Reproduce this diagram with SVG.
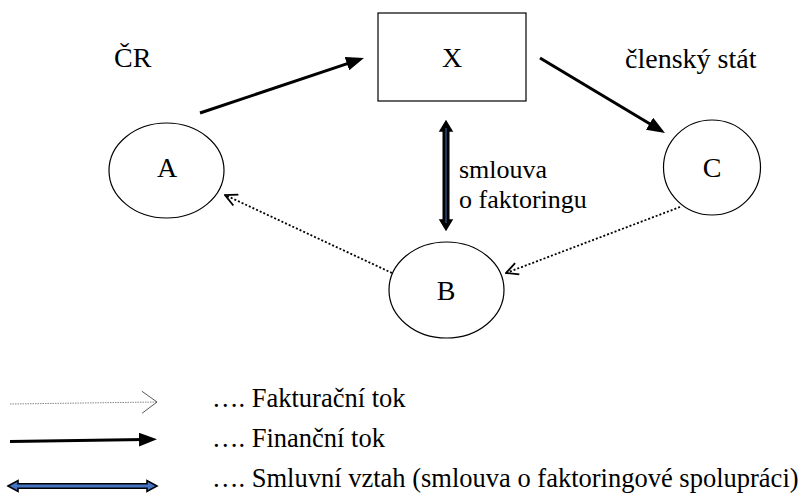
<svg xmlns="http://www.w3.org/2000/svg" width="808" height="502" viewBox="0 0 808 502">
<style>
  .t { font-family: "Liberation Serif", "Times New Roman", serif; fill: #000; }
  .lbl { font-size: 28px; }
  .node { fill: #fff; stroke: #000; stroke-width: 1.2; }
  .fin { stroke: #000; stroke-width: 3; fill: none; }
  .fak { stroke: #000; stroke-width: 1.8; stroke-dasharray: 2 2; fill: none; }
  .leg { font-size: 26.5px; }
  .side { font-size: 26px; }
  .dbl { fill: #4472c4; stroke: #000; stroke-width: 1.6; stroke-linejoin: miter; }
</style>
<defs>
  <marker id="solid" markerUnits="userSpaceOnUse" viewBox="0 0 18 14" markerWidth="18" markerHeight="14" refX="6" refY="7" orient="auto">
    <path d="M0,0 L18,7 L0,14 z" fill="#000"/>
  </marker>
  <marker id="open" markerUnits="userSpaceOnUse" viewBox="0 0 14 14" markerWidth="14" markerHeight="14" refX="13" refY="7" orient="auto">
    <path d="M1,1 L13,7 L1,13" fill="none" stroke="#000" stroke-width="1.8"/>
  </marker>
  <marker id="openthin" markerUnits="userSpaceOnUse" viewBox="0 0 18 24" markerWidth="18" markerHeight="24" refX="16" refY="12" orient="auto">
    <path d="M1,1 L16,12 L1,23" fill="none" stroke="#444" stroke-width="0.9"/>
  </marker>
</defs>

<g id="labels">
  <text class="t lbl" x="114" y="67">ČR</text>
  <text class="t lbl" x="625" y="68">členský stát</text>
</g>

<g id="node-X">
  <rect x="378" y="13" width="148" height="88" class="node"/>
  <text class="t lbl" x="452" y="67" text-anchor="middle">X</text>
</g>
<g id="node-A">
  <ellipse cx="166.5" cy="170.5" rx="57.5" ry="47.5" class="node"/>
  <text class="t lbl" x="167" y="177" text-anchor="middle">A</text>
</g>
<g id="node-C">
  <ellipse cx="712" cy="167.5" rx="48.5" ry="47.5" class="node"/>
  <text class="t lbl" x="712" y="177" text-anchor="middle">C</text>
</g>
<g id="node-B">
  <ellipse cx="446.5" cy="290" rx="57.5" ry="48" class="node"/>
  <text class="t lbl" x="446" y="300" text-anchor="middle">B</text>
</g>

<g id="connectors">
  <line x1="200" y1="113" x2="352.6" y2="61.8" class="fin" marker-end="url(#solid)"/>
  <line x1="540" y1="58" x2="654.7" y2="126.8" class="fin" marker-end="url(#solid)"/>
  <line x1="392" y1="273" x2="225" y2="195" class="fak" marker-end="url(#open)"/>
  <line x1="680" y1="207" x2="506" y2="273" class="fak" marker-end="url(#open)"/>
  <path d="M446,121 L452,131 L448.8,131 L448.8,220 L452,220 L446,230 L440,220 L443.2,220 L443.2,131 L440,131 z" fill="#000" stroke="#000" stroke-width="1.4"/>
  <line x1="446" y1="128" x2="446" y2="223" stroke="#2f4f7f" stroke-width="1.4"/>
  <text class="t side" x="459" y="178">smlouva</text>
  <text class="t side" x="459" y="208">o faktoringu</text>
</g>

<g id="legend">
  <line x1="10" y1="404" x2="157" y2="402" stroke="#888" stroke-width="1" stroke-dasharray="1.5 1" marker-end="url(#openthin)"/>
  <line x1="10" y1="441.5" x2="145" y2="439.5" class="fin" marker-end="url(#solid)"/>
  <path class="dbl" d="M8,486 L18,480.5 L18,483.8 L147,483.8 L147,480.5 L157,486 L147,491.5 L147,488.2 L18,488.2 L18,491.5 z"/>
  <text class="t leg" x="212" y="407">…. Fakturační tok</text>
  <text class="t leg" x="212" y="447">…. Finanční tok</text>
  <text class="t leg" x="212" y="487">…. Smluvní vztah (smlouva o faktoringové spolupráci)</text>
</g>
</svg>
